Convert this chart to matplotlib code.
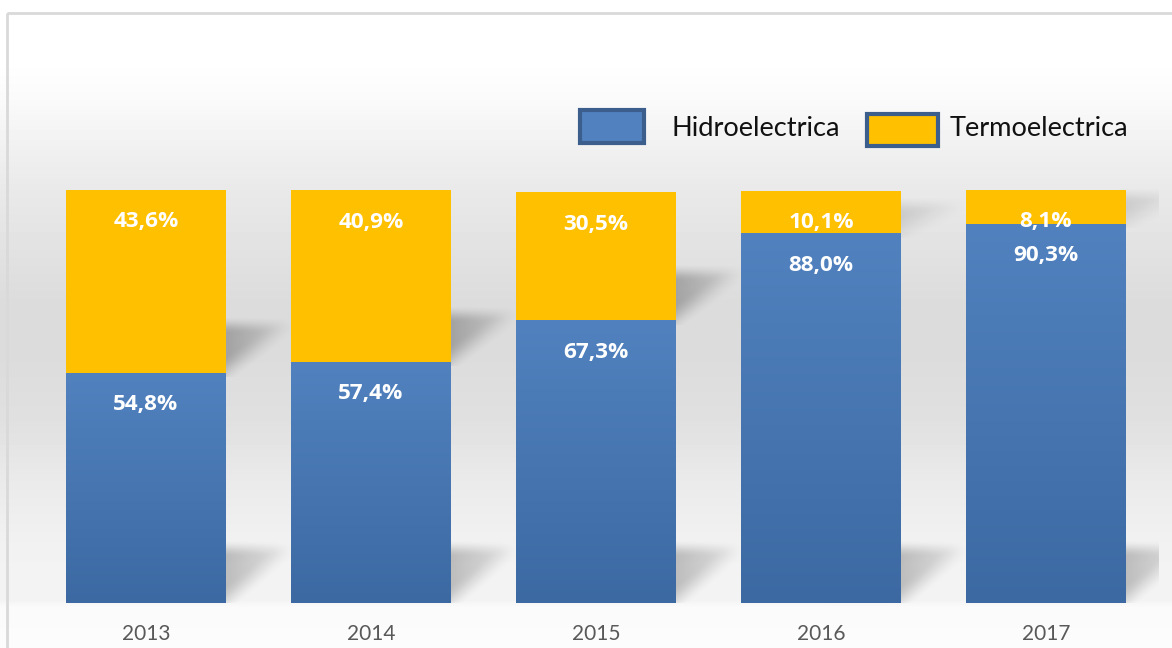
import matplotlib.pyplot as plt
from matplotlib.patches import Rectangle
import numpy as np

years = ['2013', '2014', '2015', '2016', '2017']
hidro = [54.8, 57.4, 67.3, 88.0, 90.3]
termo = [43.6, 40.9, 30.5, 10.1, 8.1]
hidro_labels = ['54,8%', '57,4%', '67,3%', '88,0%', '90,3%']
termo_labels = ['43,6%', '40,9%', '30,5%', '10,1%', '8,1%']

W, H = 1172, 648
BLUE_TOP = '#5182bf'
BLUE_BOTTOM = '#3c69a2'
YELLOW = '#ffc000'
plt.rcParams['font.family'] = ['Lato', 'DejaVu Sans']


def fx(px):
    return px / W


def fy(py):
    # pixel row from top -> figure fraction from bottom
    return 1 - py / H


fig = plt.figure(figsize=(W / 100, H / 100), dpi=100)

# chart-area background: light vertical gradient
bg = fig.add_axes([0, 0, 1, 1], zorder=-10)
bg.set_axis_off()
stops_y = [0, 60, 100, 150, 190, 300, 360, 420, 480, 540, 600, 606, 648]
stops_v = [255, 255, 250, 240, 233, 220, 220, 224, 234, 241, 244, 250, 252]
rows = np.interp(np.arange(H), stops_y, stops_v) / 255.0
grad = np.repeat(rows[:, None], 2, axis=1)
bg.imshow(grad, cmap='gray', vmin=0, vmax=1, aspect='auto', extent=[0, W, H, 0])
bg.set_xlim(0, W)
bg.set_ylim(H, 0)
bg.add_patch(Rectangle((7, 13), W, H, fill=False, edgecolor='#d9d9d9', linewidth=2))

ax = fig.add_axes([fx(33.5), 45 / H, fx(1125), 420 / H])
ax.patch.set_visible(False)
x = np.arange(len(years))
bar_w = 160 / 225
ax.set_xlim(-0.5, len(years) - 0.5)
ax.set_ylim(0, 100)

# soft diagonal shadows cast to the right of each segment
gx = np.linspace(-0.5, len(years) - 0.5, 1125)
gy = np.linspace(0, 100, 420)
GX, GY = np.meshgrid(gx, gy)
shade = np.zeros_like(GX)
sw = 0.30
soft_x, soft_y = 0.05, 3.0


def smooth(t):
    t = np.clip(t, 0, 1)
    return t * t * (3 - 2 * t)


for xi, hv in zip(x, hidro):
    xr = xi + bar_w / 2
    for yb, sh, amp in ((0, 13.0, 0.85), (hv, 11.5 if hv < 80 else 7.0, 1.0 if hv < 80 else 0.45)):
        u = (GX - xr) / sw
        v = (GY - yb) / sh
        inside_top = smooth((sh - (GY - yb)) / (1.4 * soft_y) + 0.5)
        inside_diag = smooth((v - u) * sh / (2.5 * soft_y) + 0.4)
        inside_left = smooth((GX - xr) / soft_x + 1)
        fade = np.clip(1 - u, 0, 1) ** 0.7
        shade = np.maximum(shade, amp * inside_top * inside_diag * inside_left * fade * (GY > yb - 1))
rgba = np.zeros(GX.shape + (4,))
rgba[..., 3] = shade * 0.26
ax.imshow(rgba, extent=[-0.5, len(years) - 0.5, 0, 100], origin='lower',
          aspect='auto', zorder=1, interpolation='bilinear')

blue_bars = ax.bar(x, hidro, width=bar_w, color=BLUE_BOTTOM, zorder=2)
ax.bar(x, termo, bottom=hidro, width=bar_w, color=YELLOW, zorder=2)

# vertical gradient inside the blue bars
c_top = np.array([int(BLUE_TOP[i:i + 2], 16) for i in (1, 3, 5)]) / 255
c_bot = np.array([int(BLUE_BOTTOM[i:i + 2], 16) for i in (1, 3, 5)]) / 255
t = np.linspace(0, 1, 256)[:, None]
bar_grad = (c_bot * (1 - t) + c_top * t)[:, None, :]
for bar in blue_bars:
    bx, by = bar.get_x(), bar.get_y()
    img = ax.imshow(bar_grad, extent=[bx, bx + bar.get_width(), by, by + bar.get_height()],
                    origin='lower', aspect='auto', zorder=2.5)
    img.set_clip_path(bar)
ax.set_xlim(-0.5, len(years) - 0.5)
ax.set_ylim(0, 100)

lab_font = dict(ha='center', va='center', color='white', fontsize=16.2,
                fontweight='bold', family=['Open Sans', 'DejaVu Sans'], zorder=5)
for xi, hv, tv, hl, tl in zip(x, hidro, termo, hidro_labels, termo_labels):
    ax.annotate(tl, (xi, hv + tv), xytext=(0, -32), textcoords='offset pixels', **lab_font)
    ax.annotate(hl, (xi, hv), xytext=(0, -32), textcoords='offset pixels', **lab_font)

for s in ax.spines.values():
    s.set_visible(False)
ax.set_yticks([])
ax.set_xticks(x)
ax.set_xticklabels(years, fontsize=15, color='#595959')
ax.tick_params(axis='x', length=0, pad=15)

# legend
legend_items = [('Hidroelectrica', BLUE_TOP, (580, 110, 64, 33), 671),
                ('Termoelectrica', YELLOW, (867, 114, 71, 32), 950)]
for name, col, (lx, ly, lw, lh), tx in legend_items:
    fig.add_artist(Rectangle((fx(lx), fy(ly + lh)), lw / W, lh / H, transform=fig.transFigure,
                             facecolor=col, edgecolor='#3b5e8c', linewidth=3))
    fig.text(fx(tx), fy(129), name, fontsize=19.6, color='#111111', ha='left', va='center')

fig.savefig('out.png', dpi=100)
